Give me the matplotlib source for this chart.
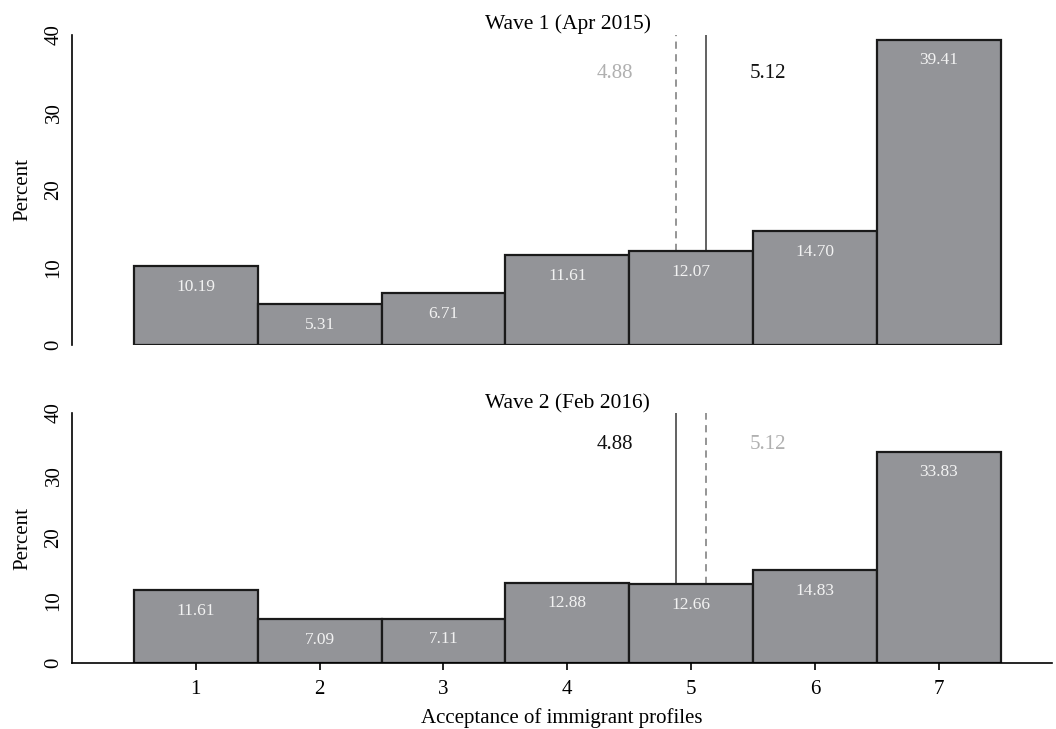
import matplotlib
matplotlib.use("Agg")
import matplotlib.pyplot as plt
import numpy as np

plt.rcParams["font.family"] = ["Liberation Serif", "DejaVu Serif"]

# data
categories = [1, 2, 3, 4, 5, 6, 7]
wave1 = [10.19, 5.31, 6.71, 11.61, 12.07, 14.70, 39.41]
wave2 = [11.61, 7.09, 7.11, 12.88, 12.66, 14.83, 33.83]
titles = ["Wave 1 (Apr 2015)", "Wave 2 (Feb 2016)"]
mean1 = 5.12
mean2 = 4.88

bar_color = "#939498"
fig = plt.figure(figsize=(10.56, 7.29), dpi=100)
ax1 = fig.add_axes([0.068, 0.527, 0.928, 0.425])
ax2 = fig.add_axes([0.068, 0.0905, 0.928, 0.343])


def draw_panel(ax, vals, title, own_mean, other_mean):
    x = np.array(categories)
    ax.bar(x, vals, width=1.0, color=bar_color, edgecolor="#1a1a1a", linewidth=1.6, zorder=2)
    for xi, v in zip(x, vals):
        ax.annotate(f"{v:.2f}", (xi, v), xytext=(0, -15), textcoords="offset points",
                    ha="center", va="center", color="#f2f2f2", fontsize=12.5)
    # bar height under each mean line
    h_own = vals[int(round(own_mean)) - 1]
    h_other = vals[int(round(other_mean)) - 1]
    ax.plot([own_mean, own_mean], [h_own, 40], color="#555555", lw=1.3, zorder=1)
    ax.plot([other_mean, other_mean], [h_other, 40], color="#8c8c8c", lw=1.3,
            ls=(0, (4, 3)), zorder=1)
    # labels placed outside the lines
    lo = min(own_mean, other_mean)
    for m in (own_mean, other_mean):
        xt = m - 0.5 if m == lo else m + 0.5
        c = "#111111" if m == own_mean else "#b0b0b0"
        ax.text(xt, 35, f"{m:.2f}", ha="center", va="center", color=c, fontsize=15)
    ax.set_xlim(0, 7.91)
    ax.set_ylim(0, 40)
    ax.set_yticks([0, 10, 20, 30, 40])
    ax.set_yticklabels(["0", "10", "20", "30", "40"], rotation=90, va="center", fontsize=15)
    ax.tick_params(axis="y", length=0, pad=6)
    ax.spines["top"].set_visible(False)
    ax.spines["right"].set_visible(False)
    ax.spines["left"].set_linewidth(1.2)
    ax.set_ylabel("Percent", fontsize=15, labelpad=9)
    ax.text(0.506, 1.035, title, transform=ax.transAxes, ha="center", va="center", fontsize=15.5)


draw_panel(ax1, wave1, titles[0], mean1, mean2)
ax1.spines["bottom"].set_visible(False)
ax1.set_xticks([])

draw_panel(ax2, wave2, titles[1], mean2, mean1)
ax2.spines["bottom"].set_linewidth(1.2)
ax2.set_xticks(categories)
ax2.set_xticklabels([str(c) for c in categories], fontsize=15)
ax2.tick_params(axis="x", length=5, width=1.2, pad=7)
ax2.set_xlabel("Acceptance of immigrant profiles", fontsize=15, labelpad=7)

fig.savefig("out.png", dpi=100)
